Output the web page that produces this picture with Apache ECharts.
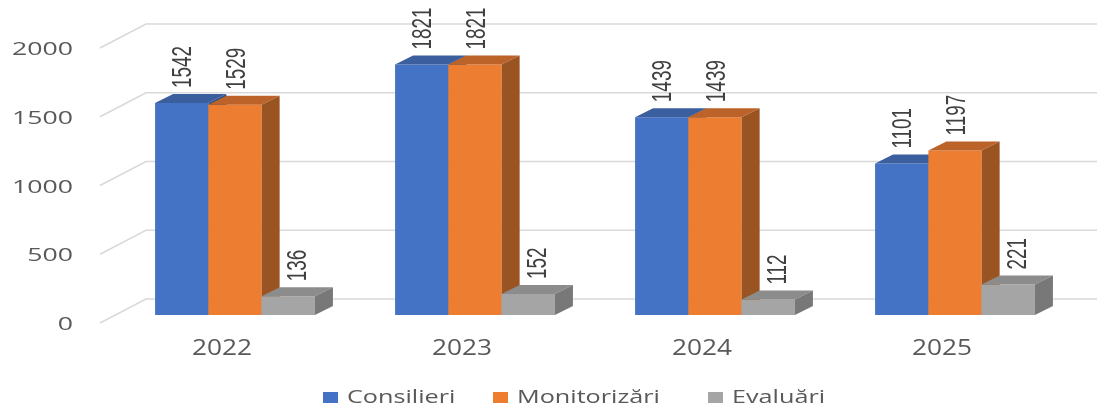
<!DOCTYPE html>
<html>
<head>
    <meta charset="utf-8">
    <title>Consilieri / Monitorizări / Evaluări</title>
    <script src="https://cdn.jsdelivr.net/npm/echarts@6/dist/echarts.min.js"></script>
</head>
<body style="margin:0; background:#fff;">
    <div id="main" style="width:1097px; height:406px;"></div>
    <script>
        var years = ['2022', '2023', '2024', '2025'];
        var seriesNames = ['Consilieri', 'Monitorizări', 'Evaluări'];
        var consilieri = [1542, 1821, 1439, 1101];
        var monitorizari = [1529, 1821, 1439, 1197];
        var evaluari = [136, 152, 112, 221];
        var yTicks = [0, 500, 1000, 1500, 2000];

        // colours of the three faces of each bar
        var FRONT = ['#4472C4', '#ED7D31', '#A5A5A5'];
        var TOP = ['#3B5E9E', '#BC632A', '#8C8C8C'];
        var SIDE = ['#2F4F85', '#9A5421', '#787878'];
        var DEPTH_X = 18;
        var DEPTH_Y = 9;
        var LABEL_DX = [2, 3, 10];
        var LEGEND_TEXT_X = [347, 517, 732];

        var chart = echarts.init(document.getElementById('main'));

        function makeBarRenderer(k) {
            return function (params, api) {
                var cat = api.value(0);
                var val = api.value(1);
                var base = api.coord([cat, 0]);
                var top = api.coord([cat, val]);
                var band = api.size([1, 0])[0];
                var w = band * 0.222;
                var x0 = base[0] + (k - 1.5) * w;
                var x1 = x0 + w;
                var yb = base[1];
                var yt = top[1];
                return {
                    type: 'group',
                    children: [
                        {
                            type: 'rect',
                            shape: { x: x0, y: yt, width: w, height: yb - yt },
                            style: { fill: FRONT[k] }
                        },
                        {
                            type: 'polygon',
                            shape: { points: [[x0, yt], [x0 + DEPTH_X, yt - DEPTH_Y], [x1 + DEPTH_X, yt - DEPTH_Y], [x1, yt]] },
                            style: { fill: TOP[k] }
                        },
                        {
                            type: 'polygon',
                            shape: { points: [[x1, yt], [x1 + DEPTH_X, yt - DEPTH_Y], [x1 + DEPTH_X, yb - DEPTH_Y], [x1, yb]] },
                            style: { fill: SIDE[k] }
                        },
                        {
                            // rotated, condensed value label
                            type: 'text',
                            x: (x0 + x1) / 2 + LABEL_DX[k],
                            y: yt - DEPTH_Y - 6,
                            rotation: Math.PI / 2,
                            scaleX: 0.7,
                            style: {
                                text: String(val),
                                align: 'left',
                                verticalAlign: 'middle',
                                font: '27px "Liberation Sans", Arial, sans-serif',
                                fill: '#404040'
                            }
                        }
                    ]
                };
            };
        }

        function renderGridLine(params, api) {
            var cs = params.coordSys;
            var y = api.coord([0, api.value(1)])[1];
            return {
                type: 'group',
                children: [
                    {
                        type: 'polyline',
                        shape: { points: [[cs.x - 15, y + 8], [cs.x + 31, y - 16], [cs.x + cs.width + 22, y - 16]] },
                        style: { stroke: '#D9D9D9', lineWidth: 1.5, fill: null }
                    },
                    {
                        type: 'text',
                        x: cs.x - 42,
                        y: y + 10,
                        scaleX: 1.48,
                        style: {
                            text: String(api.value(1)),
                            align: 'right',
                            verticalAlign: 'middle',
                            font: '18px "Open Sans", sans-serif',
                            fill: '#595959'
                        }
                    }
                ]
            };
        }

        function renderCategoryLabel(params, api) {
            var cs = params.coordSys;
            var p = api.coord([api.value(0), 0]);
            return {
                type: 'text',
                x: p[0] - 13,
                y: cs.y + cs.height + 34,
                scaleX: 1.25,
                style: {
                    text: years[api.value(0)],
                    align: 'center',
                    verticalAlign: 'middle',
                    font: '21px "Open Sans", sans-serif',
                    fill: '#595959'
                }
            };
        }

        var legendItems = [];
        seriesNames.forEach(function (name, i) {
            legendItems.push({
                type: 'rect',
                shape: { x: LEGEND_TEXT_X[i] - 24, y: 392, width: 15, height: 11 },
                style: { fill: FRONT[i] }
            });
            legendItems.push({
                type: 'text',
                x: LEGEND_TEXT_X[i],
                y: 398,
                scaleX: 1.4,
                style: {
                    text: name,
                    align: 'left',
                    verticalAlign: 'middle',
                    font: '18px "Open Sans", sans-serif',
                    fill: '#595959'
                }
            });
        });

        var option = {
            animation: false,
            grid: { left: 115, right: 22, top: 40, bottom: 91 },
            xAxis: {
                type: 'category',
                data: years,
                show: false
            },
            yAxis: {
                type: 'value',
                min: 0,
                max: 2000,
                interval: 500,
                show: false
            },
            graphic: legendItems,
            series: [
                {
                    type: 'custom',
                    renderItem: renderGridLine,
                    data: yTicks.map(function (v) { return [0, v]; }),
                    z: 1
                },
                {
                    type: 'custom',
                    renderItem: renderCategoryLabel,
                    data: years.map(function (y, i) { return [i, 0]; }),
                    z: 1
                },
                {
                    name: seriesNames[0],
                    type: 'custom',
                    renderItem: makeBarRenderer(0),
                    data: consilieri.map(function (v, i) { return [i, v]; }),
                    z: 2
                },
                {
                    name: seriesNames[1],
                    type: 'custom',
                    renderItem: makeBarRenderer(1),
                    data: monitorizari.map(function (v, i) { return [i, v]; }),
                    z: 3
                },
                {
                    name: seriesNames[2],
                    type: 'custom',
                    renderItem: makeBarRenderer(2),
                    data: evaluari.map(function (v, i) { return [i, v]; }),
                    z: 4
                }
            ]
        };

        chart.setOption(option);
    </script>
</body>
</html>
